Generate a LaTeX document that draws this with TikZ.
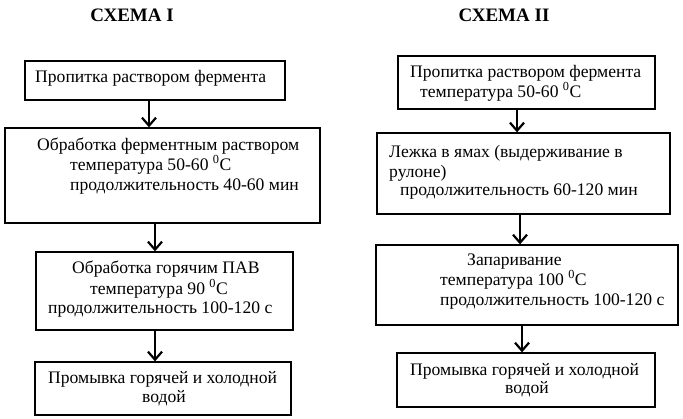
\documentclass[tikz,border=0pt]{standalone}
\usepackage{fontspec}
\setmainfont{Liberation Serif}
\usetikzlibrary{arrows.meta}
\tikzset{
  box/.style={draw=black, line width=1.3pt, rectangle, inner sep=0pt},
  txt/.style={anchor=base west, inner sep=0pt, font=\fontsize{17.6}{20}\selectfont},
  ttl/.style={anchor=base, inner sep=0pt, font=\fontsize{19}{22}\selectfont\bfseries},
  arr/.style={line width=2.2pt, -{Straight Barb[length=8pt,width=14pt,line width=2.2pt]}}
}
\begin{document}
\begin{tikzpicture}[x=1pt,y=-1pt]
\useasboundingbox (0,0) rectangle (683,418);
% titles
\node[ttl] (t1) at (132,21.5) {СХЕМА I};
\node[ttl] (t2) at (504,21.5) {СХЕМА II};
% left boxes
\node[box, minimum width=260pt, minimum height=39pt] (L1) at (155,80.5) {};
\node[box, minimum width=315pt, minimum height=95pt] (L2) at (162.5,175.5) {};
\node[box, minimum width=257pt, minimum height=78pt] (L3) at (164.5,291) {};
\node[box, minimum width=256pt, minimum height=53pt] (L4) at (163,388.5) {};
% right boxes
\node[box, minimum width=257pt, minimum height=53pt] (R1) at (526.5,82.5) {};
\node[box, minimum width=293pt, minimum height=81pt] (R2) at (523.5,173.5) {};
\node[box, minimum width=302pt, minimum height=80pt] (R3) at (527,285) {};
\node[box, minimum width=258pt, minimum height=54pt] (R4) at (526,380) {};
% left texts
\node[txt] (l1a) at (35,82) {Пропитка раствором фермента};
\node[txt] (l2a) at (37,150) {Обработка ферментным раствором};
\node[txt] (l2b) at (70,170) {температура 50-60 \textsuperscript{0}C};
\node[txt] (l2c) at (70,190) {продолжительность 40-60 мин};
\node[txt] (l3a) at (72,273.5) {Обработка горячим ПАВ};
\node[txt] (l3b) at (90,294) {температура 90 \textsuperscript{0}C};
\node[txt] (l3c) at (48,313) {продолжительность 100-120 с};
\node[txt] (l4a) at (48,383) {Промывка горячей и холодной};
\node[txt] (l4b) at (142,402) {водой};
% right texts
\node[txt] (r1a) at (410,77) {Пропитка раствором фермента};
\node[txt] (r1b) at (420,97) {температура 50-60 \textsuperscript{0}C};
\node[txt] (r2a) at (389,157) {Лежка в ямах (выдерживание в};
\node[txt] (r2b) at (389,177) {рулоне)};
\node[txt] (r2c) at (400,195) {продолжительность 60-120 мин};
\node[txt] (r3a) at (467,265) {Запаривание};
\node[txt] (r3b) at (440,285) {температура 100 \textsuperscript{0}C};
\node[txt] (r3c) at (440,305) {продолжительность 100-120 с};
\node[txt] (r4a) at (410,375) {Промывка горячей и холодной};
\node[txt] (r4b) at (505,393) {водой};
% arrows
\draw[arr] (149,0 |- L1.south) -- (149,0 |- L2.north);
\draw[arr] (155,0 |- L2.south) -- (155,0 |- L3.north);
\draw[arr] (155,0 |- L3.south) -- (155,0 |- L4.north);
\draw[arr] (517,0 |- R1.south) -- (517,0 |- R2.north);
\draw[arr] (520,0 |- R2.south) -- (520,0 |- R3.north);
\draw[arr] (522,0 |- R3.south) -- (522,0 |- R4.north);
\end{tikzpicture}
\end{document}
